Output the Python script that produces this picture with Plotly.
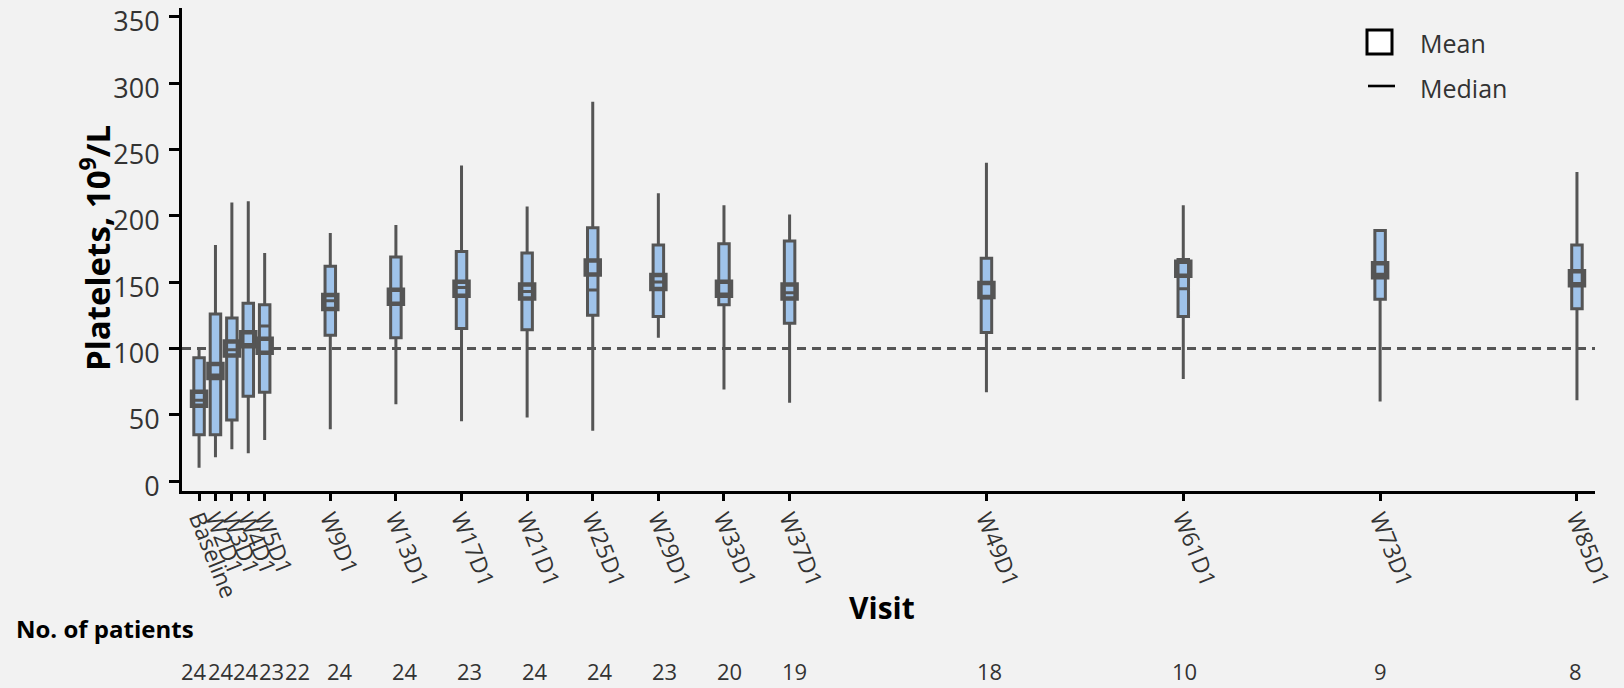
import plotly.graph_objects as go

# ---- data ----
visits = ["Baseline", "W2D1", "W3D1", "W4D1", "W5D1", "W9D1", "W13D1", "W17D1", "W21D1",
          "W25D1", "W29D1", "W33D1", "W37D1", "W49D1", "W61D1", "W73D1", "W85D1"]
weeks = [1, 2, 3, 4, 5, 9, 13, 17, 21, 25, 29, 33, 37, 49, 61, 73, 85]
n_patients = [24, 24, 24, 23, 22, 24, 24, 23, 24, 24, 23, 20, 19, 18, 10, 9, 8]
minimum = [10, 18, 24, 21, 31, 39, 58, 45, 48, 38, 108, 69, 59, 67, 77, 60, 61]
q1 = [35, 35, 46, 64, 67, 110, 108, 115, 114, 125, 124, 133, 119, 112, 124, 137, 130]
median = [61, 80, 99, 103, 117, 136, 144, 146, 143, 144, 150, 141, 142, 138, 145, 156, 149]
mean = [62, 83, 100, 107, 102, 135, 139, 145, 143, 161, 150, 145, 143, 144, 160, 159, 153]
q3 = [93, 126, 123, 134, 133, 162, 169, 173, 172, 191, 178, 179, 181, 168, 167, 189, 178]
maximum = [100, 178, 210, 211, 172, 187, 193, 238, 207, 286, 217, 208, 201, 240, 208, 189, 233]
y_ticks = [0, 50, 100, 150, 200, 250, 300, 350]
reference_value = 100

# ---- layout geometry (pixels) ----
W, H = 1624, 688
L, R, T, B = 182, 29, 8, 197
PW, PH = W - L - R, H - T - B

def px2x(px):
    return (px - L) / PW

def py2y(py):
    return (H - B - py) / PH

GRAY = "#555555"
BLUE = "#9fc3ea"
TXT = "#333333"
FONT = "Open Sans"

fig = go.Figure()

fig.add_trace(go.Box(
    x=weeks, q1=q1, median=median, q3=q3,
    lowerfence=minimum, upperfence=maximum,
    width=0.64, whiskerwidth=0,
    fillcolor=BLUE, line=dict(color=GRAY, width=3),
    boxpoints=False, showlegend=False, hoverinfo="skip",
))

fig.add_trace(go.Scatter(
    x=weeks, y=mean, mode="markers",
    marker=dict(symbol="square-open", size=14, color=GRAY, line=dict(width=4.5, color=GRAY)),
    showlegend=False, hoverinfo="skip",
))

shapes = [
    dict(type="line", xref="paper", yref="y", x0=0, x1=1, y0=reference_value, y1=reference_value,
         line=dict(color=GRAY, width=3, dash="9px,6px"), layer="below"),
    # legend glyphs
    dict(type="rect", xref="paper", yref="paper",
         x0=px2x(1367), x1=px2x(1392), y0=py2y(54), y1=py2y(30),
         line=dict(color="black", width=3), fillcolor="white"),
    dict(type="line", xref="paper", yref="paper",
         x0=px2x(1368), x1=px2x(1395), y0=py2y(86), y1=py2y(86),
         line=dict(color="black", width=2.6)),
]

annotations = [
    dict(text="Mean", xref="paper", yref="paper", x=px2x(1418), y=py2y(43),
         xanchor="left", yanchor="middle", showarrow=False,
         font=dict(family=FONT, size=25, color=TXT)),
    dict(text="Median", xref="paper", yref="paper", x=px2x(1418), y=py2y(88),
         xanchor="left", yanchor="middle", showarrow=False,
         font=dict(family=FONT, size=25, color=TXT)),
    dict(text="<b>Platelets, 10<sup>9</sup>/L</b>", xref="paper", yref="paper",
         x=px2x(95), y=py2y(248), textangle=-90, xanchor="center", yanchor="middle",
         showarrow=False, font=dict(family=FONT, size=33, color="black")),
    dict(text="<b>Visit</b>", xref="paper", yref="paper", x=px2x(882), y=py2y(607),
         xanchor="center", yanchor="middle", showarrow=False,
         font=dict(family=FONT, size=30, color="black")),
    dict(text="<b>No. of patients</b>", xref="paper", yref="paper", x=px2x(14), y=py2y(628),
         xanchor="left", yanchor="middle", showarrow=False,
         font=dict(family=FONT, size=24, color="black")),
]

# patient counts: table row uses its own (slightly different) x scale, crowded early labels spread apart
spread_shift = {1: -16, 2: -5, 3: 4, 4: 13, 5: 23}
for wk, n in zip(weeks, n_patients):
    annotations.append(dict(text=str(n), xref="x2", yref="paper", x=wk, y=py2y(671),
                            xanchor="center", yanchor="middle", showarrow=False,
                            xshift=spread_shift.get(wk, 0),
                            font=dict(family=FONT, size=22, color=TXT)))

fig.update_layout(
    width=W, height=H,
    margin=dict(l=L, r=R, t=T, b=B, pad=0),
    paper_bgcolor="#f2f2f2", plot_bgcolor="#f2f2f2",
    shapes=shapes, annotations=annotations,
    font=dict(family=FONT, color=TXT),
    xaxis=dict(
        range=[-0.04, 86.1], tickmode="array", tickvals=weeks, ticktext=visits,
        tickangle=68, ticks="outside", ticklen=7, tickwidth=2.5, tickcolor="black",
        showline=True, linecolor="black", linewidth=3, showgrid=False, zeroline=False,
        tickfont=dict(family=FONT, size=23, color=TXT), ticklabeloverflow="allow",
        ticklabelstandoff=-5, automargin=False,
    ),
    xaxis2=dict(
        range=[-0.72, 86.23], overlaying="x", visible=False, automargin=False,
        showgrid=False, zeroline=False,
    ),
    yaxis=dict(
        range=[-7.5, 356.7], tickmode="array", tickvals=y_ticks,
        ticks="outside", ticklen=10, tickwidth=2.5, tickcolor="black",
        showline=True, linecolor="black", linewidth=3, showgrid=False, zeroline=False,
        tickfont=dict(family=FONT, size=27, color=TXT), ticklabelstandoff=4,
        ticklabelshift=5, ticklabeloverflow="allow", automargin=False,
    ),
)

fig.write_html("out.html", config={"displayModeBar": False},
               post_script="document.body.style.margin='0';document.body.style.overflow='hidden';")
